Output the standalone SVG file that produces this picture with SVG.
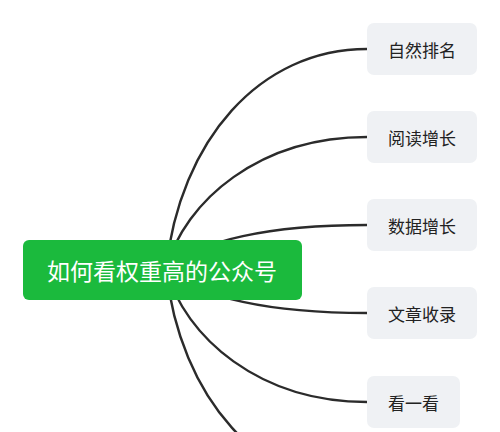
<svg xmlns="http://www.w3.org/2000/svg" width="500" height="432" viewBox="0 0 500 432">
<style>
.link{fill:none;stroke:#2b2b2b;stroke-width:2.4;stroke-linecap:round}
.leaf rect{fill:#eff1f4}
.leaf text{font-family:"Noto Sans CJK SC","Noto Sans",sans-serif;font-size:17px;fill:#222;text-anchor:middle;dominant-baseline:central}
.root rect{fill:#1bba3d}
.root text{font-family:"Noto Sans CJK SC","Noto Sans",sans-serif;font-size:23px;fill:#fff;text-anchor:middle;dominant-baseline:central}
</style>
<rect width="500" height="432" fill="#fff"/>
<g id="connectors">
<path class="link" d="M166,269 C180,140 260,49 367,49"/>
<path class="link" d="M166,269 C185,200 260,137 367,137"/>
<path class="link" d="M166,269 C200,240 270,225 367,225"/>
<path class="link" d="M166,269 C200,298 270,313 367,313"/>
<path class="link" d="M166,269 C185,338 260,402 367,402"/>
<path class="link" d="M166,269 C180,398 260,489 367,489"/>
</g>
<g id="root" class="root">
<rect x="23" y="240" width="279" height="60" rx="6"/>
<text x="162" y="270">如何看权重高的公众号</text>
</g>
<g id="n1" class="leaf"><rect x="367" y="23" width="110" height="52" rx="7"/><text x="422" y="49">自然排名</text></g>
<g id="n2" class="leaf"><rect x="367" y="111" width="110" height="52" rx="7"/><text x="422" y="137">阅读增长</text></g>
<g id="n3" class="leaf"><rect x="367" y="199" width="110" height="52" rx="7"/><text x="422" y="225">数据增长</text></g>
<g id="n4" class="leaf"><rect x="367" y="287" width="110" height="52" rx="7"/><text x="422" y="313">文章收录</text></g>
<g id="n5" class="leaf"><rect x="367" y="376" width="93" height="52" rx="7"/><text x="413.5" y="402">看一看</text></g>
</svg>
